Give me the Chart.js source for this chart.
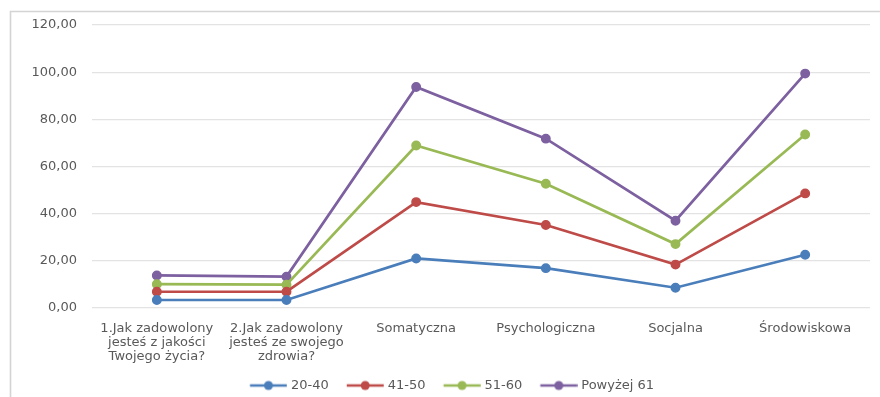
<!DOCTYPE html>
<html>
<head>
<meta charset="utf-8">
<script src="https://cdn.jsdelivr.net/npm/chart.js@4.4.1/dist/chart.umd.min.js"></script>
<style>
  html, body { margin: 0; padding: 0; background: #ffffff; }
  #wrap { width: 880px; height: 397px; position: relative; }
</style>
</head>
<body>
<div id="wrap"><canvas id="chart"></canvas></div>
<script>
// Quality-of-life survey: mean scores by age group
const categories = [
  ['1.Jak zadowolony', 'jesteś z jakości', 'Twojego życia?'],
  ['2.Jak zadowolony', 'jesteś ze swojego', 'zdrowia?'],
  'Somatyczna',
  'Psychologiczna',
  'Socjalna',
  'Środowiskowa'
];
const seriesNames = ['20-40', '41-50', '51-60', 'Powyżej 61'];
const values2040 = [3.4, 3.4, 21.0, 16.9, 8.6, 22.6];
const values4150 = [6.9, 6.9, 44.9, 35.2, 18.4, 48.6];
const values5160 = [10.1, 9.9, 68.9, 52.7, 27.1, 73.6];
const valuesOver61 = [13.8, 13.3, 93.7, 71.8, 37.0, 99.4];
const yTicks = [0, 20, 40, 60, 80, 100, 120];

const colors = ['#4A7EBB', '#BE4B48', '#98B954', '#7D60A0'];
const textColor = '#595959';
const fontFamily = '"DejaVu Sans", sans-serif';

// Legend symbol: short line with a dot, drawn in the right part of a 52px tile
function legendSymbol(color) {
  const c = document.createElement('canvas');
  c.width = 52; c.height = 12;
  const g = c.getContext('2d');
  const x0 = 14.75, x1 = 51.75;
  g.strokeStyle = color;
  g.lineWidth = 2.5;
  g.beginPath(); g.moveTo(x0, 6); g.lineTo(x1, 6); g.stroke();
  g.fillStyle = color;
  g.beginPath(); g.arc((x0 + x1) / 2, 6, 4.5, 0, Math.PI * 2); g.fill();
  return c;
}

const seriesValues = [values2040, values4150, values5160, valuesOver61];
const datasets = seriesNames.map((name, i) => ({
  label: name,
  data: seriesValues[i],
  borderColor: colors[i],
  backgroundColor: colors[i],
  borderWidth: 2.7,
  pointRadius: 4.2,
  pointBorderWidth: 1.5,
  pointHoverRadius: 4.2,
  tension: 0,
  fill: false
}));

// Light frame on the top and left edges
const framePlugin = {
  id: 'frame',
  beforeDraw(chart) {
    const ctx = chart.ctx;
    ctx.save();
    ctx.strokeStyle = '#D4D4D4';
    ctx.lineWidth = 1.6;
    ctx.beginPath();
    ctx.moveTo(10.5, 397);
    ctx.lineTo(10.5, 11.5);
    ctx.lineTo(880, 11.5);
    ctx.stroke();
    ctx.restore();
  }
};

// Nudge the legend a little right and down from its default slot
const legendShift = {
  id: 'legendShift',
  afterLayout(chart) {
    const lg = chart.legend;
    if (lg) {
      lg.left += 6;
      lg.right += 6;
      lg.top += 5;
      lg.bottom += 5;
    }
  }
};

new Chart(document.getElementById('chart'), {
  type: 'line',
  data: { labels: categories, datasets },
  plugins: [framePlugin, legendShift],
  options: {
    responsive: true,
    maintainAspectRatio: false,
    animation: false,
    layout: { padding: { left: 10, right: 10, top: 25, bottom: 0 } },
    plugins: {
      tooltip: { enabled: false },
      legend: {
        position: 'bottom',
        labels: {
          color: textColor,
          font: { family: fontFamily, size: 13 },
          usePointStyle: true,
          pointStyleWidth: 46.5,
          padding: 6,
          generateLabels(chart) {
            return chart.data.datasets.map((ds, i) => ({
              text: ds.label,
              fillStyle: ds.borderColor,
              strokeStyle: ds.borderColor,
              fontColor: textColor,
              lineWidth: 0,
              pointStyle: legendSymbol(ds.borderColor),
              datasetIndex: i
            }));
          }
        }
      }
    },
    scales: {
      x: {
        offset: true,
        grid: { display: false, drawTicks: false },
        border: { display: false },
        ticks: {
          color: textColor,
          font: { family: fontFamily, size: 13, lineHeight: 1.06 },
          padding: 14,
          maxRotation: 0,
          autoSkip: false
        },
        afterFit(scale) { scale.height = 60; }
      },
      y: {
        min: 0,
        max: 120,
        afterBuildTicks(scale) { scale.ticks = yTicks.map(v => ({ value: v })); },
        grid: { color: '#E3E3E3', lineWidth: 1.2, drawTicks: false },
        border: { display: false },
        ticks: {
          color: textColor,
          font: { family: fontFamily, size: 13 },
          padding: 15,
          callback: v => v.toFixed(2).replace('.', ',')
        },
        afterFit(scale) { scale.width = 82; }
      }
    }
  }
});
</script>
</body>
</html>
